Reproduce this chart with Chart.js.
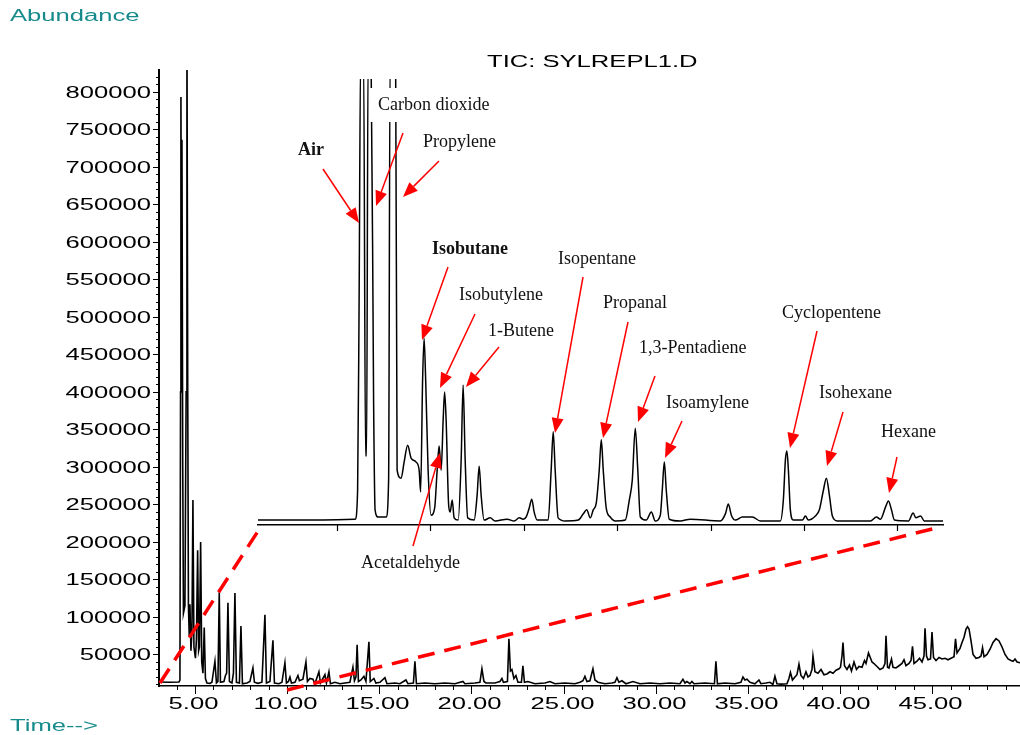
<!DOCTYPE html>
<html>
<head>
<meta charset="utf-8">
<title>TIC: SYLREPL1.D</title>
<script src="https://cdn.jsdelivr.net/npm/chart.js@4.4.0/dist/chart.umd.min.js"></script>
<style>
  body { margin: 0; background: #fff; }
  #wrap { position: relative; width: 1020px; height: 735px; }
  #wrap canvas { position: absolute; left: 0; top: 0; }
  #inset { pointer-events: none; }
</style>
</head>
<body>
<div id="wrap">
  <canvas id="tic" width="1020" height="735"></canvas>
  <canvas id="inset" width="1020" height="735"></canvas>
</div>
<script>
// full run, retention time (min) and abundance
var mainTime = [
  3.047,3.643,4.132,4.186,4.219,4.240,4.267,4.295,4.338,4.376,
  4.457,4.523,4.566,4.609,4.647,4.691,4.729,4.783,4.837,4.891,
  4.946,5.027,5.081,5.147,5.201,5.244,5.309,5.369,5.434,5.505,
  5.570,5.651,5.814,5.922,6.085,6.167,6.248,6.319,6.384,6.574,
  6.655,6.720,6.791,6.872,7.008,7.089,7.170,7.252,7.415,7.496,
  7.577,7.822,7.984,8.147,8.228,8.418,8.635,8.798,8.880,9.070,
  9.232,9.314,9.558,9.721,9.883,9.965,10.073,10.155,10.236,10.426,
  10.589,10.670,10.860,11.023,11.104,11.240,11.403,11.511,11.728,11.810,
  12.054,12.135,12.271,12.352,12.596,12.868,13.139,13.410,13.573,13.655,
  13.736,13.801,13.872,14.007,14.170,14.279,14.441,14.512,14.713,14.821,
  15.038,15.309,15.418,15.852,16.123,16.449,16.557,16.856,16.937,17.019,
  17.480,18.022,18.565,19.108,19.542,19.650,20.193,20.464,20.573,20.681,
  20.790,21.278,21.549,21.658,21.739,21.957,22.038,22.119,22.200,22.309,
  22.418,22.526,22.716,22.797,22.879,23.069,23.449,23.991,24.263,24.534,
  25.077,25.619,25.891,26.053,26.162,26.270,26.433,26.596,26.705,26.868,
  27.247,27.627,27.790,27.899,28.007,28.170,28.387,28.767,29.146,29.689,
  30.232,30.774,31.317,31.479,31.588,31.697,31.860,31.968,32.077,32.673,
  33.189,33.270,33.352,33.759,34.302,34.627,34.736,34.844,34.953,35.116,
  35.387,35.604,35.713,35.984,36.201,36.364,36.472,36.581,36.798,37.124,
  37.232,37.314,37.422,37.558,37.667,37.776,37.884,38.020,38.156,38.265,
  38.373,38.482,38.536,38.645,38.808,38.971,39.133,39.296,39.459,39.622,
  39.785,39.948,40.029,40.110,40.165,40.246,40.382,40.517,40.626,40.762,
  40.897,41.033,41.196,41.332,41.413,41.549,41.630,41.739,41.847,42.010,
  42.173,42.336,42.444,42.499,42.580,42.661,42.797,42.878,43.041,43.204,
  43.367,43.476,43.584,43.747,43.856,43.937,44.019,44.181,44.317,44.453,
  44.561,44.616,44.697,44.779,44.914,44.995,45.077,45.213,45.376,45.538,
  45.701,45.864,46.027,46.190,46.271,46.353,46.515,46.624,46.733,46.841,
  46.922,47.004,47.112,47.221,47.384,47.547,47.656,47.737,47.818,47.981,
  48.144,48.307,48.470,48.632,48.795,48.958,49.121,49.284,49.393,49.501,
  49.610,49.773
];
var mainAbund = [
  13300,13000,13300,16000,400000,793000,520000,736000,300000,105000,
  115000,400000,900000,400000,115000,75000,117000,55000,80000,256000,
  60000,45000,70000,189000,55000,60000,200000,40000,25000,86000,
  18000,12000,11500,13000,41000,12000,14000,133000,13000,14000,
  22000,25000,119000,14000,12000,25000,132000,13000,12000,88000,
  11000,12000,14000,32000,13000,11500,13000,103000,12000,14000,
  69000,12000,11000,13000,39000,12000,14000,20000,12000,13000,
  22000,15000,17000,40000,14000,18000,17000,11000,27000,12000,
  23000,12000,27000,11000,13000,11000,12000,13000,33000,15000,
  20000,63000,14000,16000,21000,14000,67000,14000,18000,12000,
  13000,19000,11000,12000,11000,16000,11000,12000,41000,11000,
  12000,11000,12000,11000,14000,11000,12000,13000,31000,14000,
  12000,12000,14000,18000,13000,14000,71000,28000,30000,18000,
  22000,13000,13000,35000,13000,14000,11000,12000,14000,11000,
  12000,11000,13000,15000,21000,14000,15000,31000,16000,13000,
  11000,12000,13000,19000,13000,15000,11000,14000,11000,12000,
  11000,12000,11000,17000,12000,14000,11000,14000,11000,12000,
  11000,41000,11000,12000,11000,13000,20000,16000,17000,13000,
  11000,16000,11000,12000,13000,10000,21000,11000,10500,11000,
  18000,26000,16000,20000,23000,37000,22000,18000,27000,20000,
  22000,30000,48000,27000,25000,30000,23000,24000,27000,25000,
  29000,31000,33000,48000,66000,35000,30000,36000,28000,40000,
  30000,34000,33000,42000,38000,52000,47000,40000,38000,34000,
  30000,32000,38000,75000,33000,32000,44000,33000,32000,35000,
  38000,43000,35000,38000,42000,61000,38000,41000,45000,40000,
  48000,85000,48000,43000,44000,80000,46000,42000,46000,44000,
  45000,43000,45000,47000,71000,52000,58000,66000,73000,84000,
  87000,84000,68000,50000,45000,46000,48000,59000,47000,50000,
  57000,66000,71000,68000,60000,50000,44000,42000,41000,44000,
  40000,39000
];

// inset: expanded early part of the run (relative signal, clipped above 1000)
var insetTime = [
  3.153,3.603,4.193,4.220,4.236,4.252,4.284,4.305,4.316,4.332,
  4.364,4.391,4.407,4.439,4.525,4.552,4.568,4.627,4.643,4.686,
  4.718,4.756,4.793,4.847,4.879,4.895,4.916,4.932,4.949,4.975,
  5.007,5.045,5.072,5.093,5.115,5.136,5.152,5.168,5.195,5.211,
  5.233,5.254,5.297,5.329,5.350,5.372,5.399,5.468,5.500,5.522,
  5.543,5.575,5.640,5.693,5.822,5.897,5.951,5.994,6.026,6.058,
  6.085,6.111,6.144,6.261,6.293,6.315,6.336,6.368,6.444,6.583,
  6.637,6.674,6.712,6.744,6.776,6.808,6.830,6.851,6.883,6.926,
  6.980,7.087,7.130,7.162,7.194,7.221,7.248,7.312,7.366,7.408,
  7.462,7.483,7.505,7.526,7.558,7.676,7.783,8.105,8.159,8.191,
  8.223,8.266,8.341,8.448,8.534,8.748,8.780,8.802,8.818,8.834,
  8.855,8.887,8.984,9.016,9.048,9.123,9.166,9.209,9.241,9.273,
  9.305,9.359,9.713,9.777,9.820,9.874,9.906,9.938,9.970,10.12,
  10.17,10.20,10.25,10.29,10.49
];
var insetSignal = [
  11,11,13,78,504,1050,1050,155,155,1050,
  1050,280,34,18,18,101,1050,1050,123,105,
  141,179,150,141,123,74,325,419,325,123,
  22,38,123,177,123,235,298,235,45,29,
  56,16,11,146,314,146,16,11,67,132,
  67,11,16,9,13,9,16,13,18,38,
  58,29,11,11,123,209,123,16,9,11,
  25,34,16,34,49,123,191,123,38,18,
  9,11,56,101,217,123,18,11,29,9,
  22,78,141,78,13,9,13,9,25,47,
  22,11,18,18,9,9,56,146,166,123,
  34,11,11,20,11,20,34,78,105,67,
  20,9,9,18,13,40,54,34,11,9,
  27,16,20,9,9
];

var xLabelEvery = 5;        // labelled time ticks: 5.00 ... 45.00
var yLabelEvery = 50000;    // labelled abundance ticks: 50000 ... 800000
var zoomEnd = 10.0;         // end of the expanded window on the main time axis

// peak labels of the inset: text, label position, arrow tail -> head
var peakNotes = [
  { text: 'Air', bold: true, at: [298, 150], arrow: [323, 169, 359, 223] },
  { text: 'Carbon dioxide', at: [378, 105], arrow: [403, 133, 376, 206] },
  { text: 'Propylene', at: [423, 142], arrow: [439, 161, 403, 197] },
  { text: 'Isobutane', bold: true, at: [432, 249], arrow: [448, 267, 422, 340] },
  { text: 'Isobutylene', at: [459, 295], arrow: [475, 314, 440, 388] },
  { text: '1-Butene', at: [488, 331], arrow: [499, 347, 466, 387] },
  { text: 'Isopentane', at: [558, 259], arrow: [583, 277, 555, 433] },
  { text: 'Acetaldehyde', at: [361, 563], arrow: [413, 546, 440, 453] },
  { text: 'Propanal', at: [603, 303], arrow: [628, 322, 603, 438] },
  { text: '1,3-Pentadiene', at: [639, 348], arrow: [655, 376, 638, 422] },
  { text: 'Isoamylene', at: [666, 403], arrow: [682, 421, 665, 458] },
  { text: 'Cyclopentene', at: [782, 313], arrow: [817, 331, 790, 448] },
  { text: 'Isohexane', at: [819, 393], arrow: [843, 412, 827, 466] },
  { text: 'Hexane', at: [881, 432], arrow: [897, 457, 889, 493] }
];

var SANS = '16px "Liberation Sans", Arial, sans-serif';
var TEAL = '#178b8b';

// the instrument font is a wide sans: draw it horizontally stretched
function wideText(ctx, text, x, y, align, color) {
  var sx = 1.6;
  ctx.save();
  ctx.font = SANS;
  ctx.fillStyle = color;
  ctx.textBaseline = 'middle';
  ctx.textAlign = 'left';
  var w = ctx.measureText(text).width * sx;
  var left = align === 'right' ? x - w : (align === 'center' ? x - w / 2 : x);
  ctx.translate(left, y);
  ctx.scale(sx, 1);
  ctx.fillText(text, 0, 0);
  ctx.restore();
}

var mainAxes = {
  id: 'mainAxes',
  afterDraw: function(chart) {
    var ctx = chart.ctx, area = chart.chartArea;
    var sx = chart.scales.x, sy = chart.scales.y;
    ctx.save();
    ctx.strokeStyle = '#000';
    ctx.lineWidth = 1;
    sy.ticks.forEach(function(t) {
      var py = Math.round(sy.getPixelForValue(t.value)) + 0.5;
      var major = t.value % yLabelEvery === 0;
      ctx.beginPath();
      ctx.moveTo(area.left - (major ? 6 : 3), py);
      ctx.lineTo(area.left, py);
      ctx.stroke();
      if (major) wideText(ctx, String(t.value), area.left - 8, py + 1, 'right', '#000');
    });
    sx.ticks.forEach(function(t) {
      var px = Math.round(sx.getPixelForValue(t.value)) + 0.5;
      var major = t.value % xLabelEvery === 0;
      ctx.beginPath();
      ctx.moveTo(px, area.bottom);
      ctx.lineTo(px, area.bottom + (major ? 8 : 4));
      ctx.stroke();
      if (major) wideText(ctx, t.value.toFixed(2), px - 2, area.bottom + 19, 'center', '#000');
    });
    ctx.restore();
    wideText(ctx, 'Abundance', 10, 17, 'left', TEAL);
    wideText(ctx, 'Time-->', 10, 727, 'left', TEAL);
    wideText(ctx, 'TIC: SYLREPL1.D', 487, 63, 'left', '#000');
  }
};

var mainChart = new Chart(document.getElementById('tic'), {
  type: 'line',
  data: {
    datasets: [{
      data: mainTime.map(function(t, i) { return { x: t, y: mainAbund[i] }; }),
      borderColor: '#000',
      borderWidth: 1.6,
      pointRadius: 0,
      tension: 0
    }]
  },
  options: {
    responsive: false,
    animation: false,
    devicePixelRatio: 1,
    layout: { padding: { left: 159, top: 70, right: 0, bottom: 49 } },
    plugins: { legend: { display: false }, tooltip: { enabled: false } },
    scales: {
      x: {
        type: 'linear',
        min: 3.05,
        max: 49.77,
        grid: { display: false, drawTicks: false },
        border: { display: true, color: '#000', width: 1.5 },
        ticks: { display: false },
        afterBuildTicks: function(scale) {
          var ticks = [];
          for (var v = 4; v <= 49; v++) ticks.push({ value: v });
          scale.ticks = ticks;
        }
      },
      y: {
        min: 8000,
        max: 829000,
        grid: { display: false, drawTicks: false },
        border: { display: true, color: '#000', width: 2 },
        ticks: { display: false },
        afterBuildTicks: function(scale) {
          var ticks = [];
          for (var v = 10000; v <= 820000; v += 10000) ticks.push({ value: v });
          scale.ticks = ticks;
        }
      }
    }
  },
  plugins: [mainAxes]
});

function arrow(ctx, x1, y1, x2, y2) {
  var ang = Math.atan2(y2 - y1, x2 - x1);
  var len = 15, half = 6;
  var bx = x2 - Math.cos(ang) * len, by = y2 - Math.sin(ang) * len;
  ctx.beginPath();
  ctx.moveTo(x1, y1);
  ctx.lineTo(bx, by);
  ctx.stroke();
  ctx.beginPath();
  ctx.moveTo(x2, y2);
  ctx.lineTo(bx + Math.sin(ang) * half, by - Math.cos(ang) * half);
  ctx.lineTo(bx - Math.sin(ang) * half, by + Math.cos(ang) * half);
  ctx.closePath();
  ctx.fill();
}

var insetDecor = {
  id: 'insetDecor',
  afterDraw: function(chart) {
    var ctx = chart.ctx, area = chart.chartArea, sx = chart.scales.x;
    ctx.save();
    // tick marks under the inset axis
    ctx.strokeStyle = '#000';
    ctx.lineWidth = 1.2;
    sx.ticks.forEach(function(t) {
      var px = Math.round(sx.getPixelForValue(t.value)) + 0.5;
      ctx.beginPath();
      ctx.moveTo(px, area.bottom);
      ctx.lineTo(px, area.bottom + 6);
      ctx.stroke();
    });
    // dashed guides from the main time axis to the inset
    var mx = mainChart.scales.x, mArea = mainChart.chartArea;
    ctx.strokeStyle = '#f00';
    ctx.lineWidth = 3.5;
    ctx.setLineDash([17, 10]);
    ctx.beginPath();
    ctx.moveTo(mx.getPixelForValue(mx.min) + 1, mArea.bottom - 3);
    ctx.lineTo(area.left + 2, area.bottom + 3);
    ctx.stroke();
    ctx.beginPath();
    ctx.moveTo(mx.getPixelForValue(zoomEnd), mArea.bottom + 4);
    ctx.lineTo(area.right - 3, area.bottom + 2);
    ctx.stroke();
    ctx.setLineDash([]);
    // label boxes are opaque: they cut the clipped peaks that run under them
    ctx.textBaseline = 'middle';
    ctx.textAlign = 'left';
    peakNotes.forEach(function(n) {
      ctx.font = (n.bold ? 'bold ' : '') + '18px "Liberation Serif", "Times New Roman", serif';
      var w = ctx.measureText(n.text).width;
      ctx.fillStyle = '#fff';
      ctx.fillRect(n.at[0] - 9, n.at[1] - 17, w + 13, 34);
      ctx.fillStyle = '#111';
      ctx.fillText(n.text, n.at[0], n.at[1]);
    });
    ctx.strokeStyle = '#f00';
    ctx.fillStyle = '#f00';
    ctx.lineWidth = 1.5;
    peakNotes.forEach(function(n) {
      var a = n.arrow;
      arrow(ctx, a[0], a[1], a[2], a[3]);
    });
    ctx.restore();
  }
};

var insetChart = new Chart(document.getElementById('inset'), {
  type: 'line',
  data: {
    datasets: [{
      data: insetTime.map(function(t, i) { return { x: t, y: insetSignal[i] }; }),
      borderColor: '#000',
      borderWidth: 1.5,
      pointRadius: 0,
      cubicInterpolationMode: 'monotone'
    }]
  },
  options: {
    responsive: false,
    animation: false,
    devicePixelRatio: 1,
    layout: { padding: { left: 258, top: 79, right: 77, bottom: 210 } },
    plugins: { legend: { display: false }, tooltip: { enabled: false } },
    scales: {
      x: {
        type: 'linear',
        min: 3.153,
        max: 10.49,
        grid: { display: false, drawTicks: false },
        border: { display: true, color: '#000', width: 1.5 },
        ticks: { display: false },
        afterBuildTicks: function(scale) {
          var ticks = [];
          for (var v = 4; v <= 10; v++) ticks.push({ value: v });
          scale.ticks = ticks;
        }
      },
      y: {
        display: false,
        min: 0,
        max: 1000
      }
    }
  },
  plugins: [insetDecor]
});
</script>
</body>
</html>
